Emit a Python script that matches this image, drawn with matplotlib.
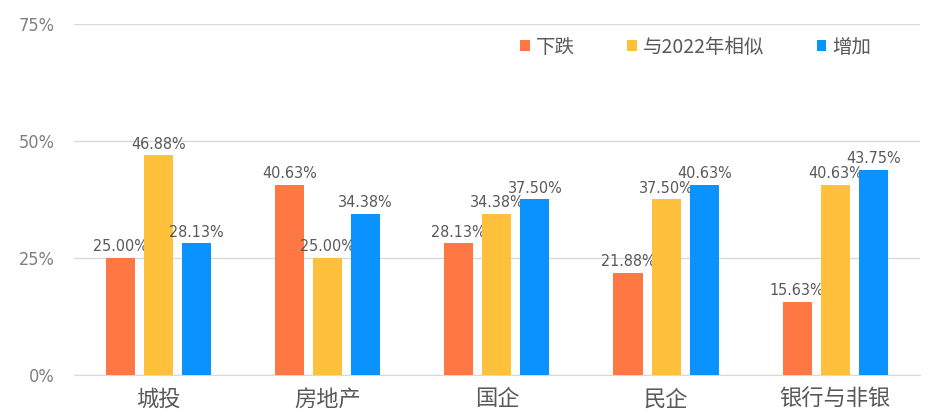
import numpy as np
import matplotlib.pyplot as plt
from matplotlib.ticker import FuncFormatter

plt.rcParams['font.family'] = ['Noto Sans CJK SC', 'DejaVu Sans']

categories = ['城投', '房地产', '国企', '民企', '银行与非银']
series_names = ['下跌', '与2022年相似', '增加']
down = [25.00, 40.63, 28.13, 21.88, 15.63]
similar = [46.88, 25.00, 34.38, 37.50, 40.63]
increase = [28.13, 34.38, 37.50, 40.63, 43.75]
colors = ['#FF7843', '#FFC13B', '#0A92FF']

fig = plt.figure(figsize=(9.33, 4.18), dpi=100)
ax = fig.add_axes([0.079, 0.103, 0.907, 0.84])

x = np.arange(len(categories))
w = 0.172
step = 0.225
for k, (vals, name, c) in enumerate(zip([down, similar, increase], series_names, colors)):
    xs = x + (k - 1) * step
    ax.bar(xs, vals, width=w, color=c, label=name, zorder=3)
    for xi, v in zip(xs, vals):
        ax.text(xi, v + 0.8, f'{v:.2f}%', ha='center', va='bottom',
                fontsize=11.5, color='#595959', family='DejaVu Sans',
                fontstretch='condensed')

ax.set_xlim(-0.5, 4.5)
ax.set_ylim(0, 75)
ax.set_yticks([0, 25, 50, 75])
ax.yaxis.set_major_formatter(FuncFormatter(lambda v, p: f'{v:.0f}%'))
ax.grid(axis='y', color='#D9D9D9', linewidth=1, zorder=0)
for s in ['top', 'right', 'left']:
    ax.spines[s].set_visible(False)
ax.spines['bottom'].set_color('#D9D9D9')
ax.tick_params(axis='both', length=0, colors='#595959')
ax.tick_params(axis='y', labelsize=13, pad=14, labelcolor='#7F7F7F')
ax.tick_params(axis='x', pad=9)
for t in ax.get_yticklabels():
    t.set_family('DejaVu Sans')
    t.set_fontstretch('condensed')
ax.set_xticks(x)
ax.set_xticklabels(categories, fontsize=16)

ax.legend(loc='upper center', bbox_to_anchor=(0.735, 1.013), ncol=3, frameon=False,
          fontsize=14, handlelength=0.5, handleheight=0.5, columnspacing=2.7,
          handletextpad=0.3, labelcolor='#595959')

fig.savefig('out.png', dpi=100)
